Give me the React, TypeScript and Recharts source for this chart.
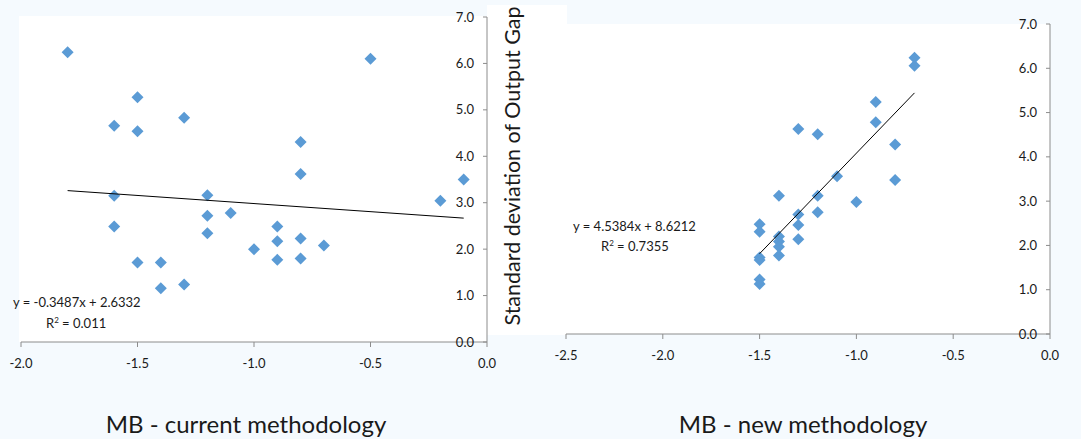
import React from "react";
import { ScatterChart, Scatter, XAxis, YAxis } from "recharts";

// MB output gap vs standard deviation, two methodologies
const CURRENT_X = [-1.8, -0.5, -1.5, -1.6, -1.5, -1.3, -0.8, -0.8, -0.1, -0.2, -1.6, -1.6, -1.2, -1.2, -1.2, -1.1, -0.9, -0.9, -0.9, -0.8, -0.8, -0.7, -1.0, -1.5, -1.4, -1.4, -1.3];
const CURRENT_Y = [6.24, 6.1, 5.27, 4.66, 4.54, 4.83, 4.31, 3.62, 3.5, 3.04, 3.15, 2.49, 3.16, 2.72, 2.34, 2.78, 2.49, 2.17, 1.77, 2.23, 1.8, 2.08, 2.0, 1.71, 1.71, 1.16, 1.24];

const NEW_X = [-0.7, -0.7, -0.9, -0.9, -1.3, -1.2, -0.8, -1.1, -0.8, -1.4, -1.2, -1.0, -1.2, -1.3, -1.3, -1.3, -1.5, -1.5, -1.4, -1.4, -1.4, -1.4, -1.5, -1.5, -1.5, -1.5];
const NEW_Y = [6.24, 6.06, 5.24, 4.78, 4.63, 4.51, 4.28, 3.56, 3.48, 3.12, 3.12, 2.98, 2.75, 2.7, 2.46, 2.14, 2.48, 2.31, 2.2, 2.09, 1.97, 1.77, 1.73, 1.67, 1.23, 1.13];

const CURRENT_FIT = { slope: -0.3487, intercept: 2.6332, r2: "0.011" };
const NEW_FIT = { slope: 4.5384, intercept: 8.6212, r2: "0.7355" };

const Y_TICKS = [0, 1, 2, 3, 4, 5, 6, 7];
const CURRENT_X_TICKS = [-2, -1.5, -1, -0.5, 0];
const NEW_X_TICKS = [-2.5, -2, -1.5, -1, -0.5, 0];

const FONT = "Lato, 'Open Sans', sans-serif";
const BLUE = "#5B9BD5";
const AXIS = "#8c8c8c";
const TEXT = "#1a1a1a";

const toPoints = (xs: number[], ys: number[]) => xs.map((x, i) => ({ x, y: ys[i] }));
const trend = (xs: number[], fit: { slope: number; intercept: number }) => {
  const lo = Math.min(...xs);
  const hi = Math.max(...xs);
  return [lo, hi].map((x) => ({ x, y: fit.slope * x + fit.intercept }));
};

function Diamond(props: any) {
  const { cx, cy } = props;
  if (cx == null || cy == null) return null;
  const r = 6;
  return <path d={`M${cx},${cy - r}L${cx + r},${cy}L${cx},${cy + r}L${cx - r},${cy}Z`} fill={BLUE} />;
}

const NoShape = () => null;

function Panel({ xs, ys, fit, xTicks, width, height, margin }: any) {
  const xDomain = [xTicks[0], xTicks[xTicks.length - 1]];
  return (
    <ScatterChart width={width} height={height} margin={margin}>
      <XAxis
        type="number"
        dataKey="x"
        domain={xDomain}
        ticks={xTicks}
        tickFormatter={(v) => v.toFixed(1)}
        tick={{ fill: TEXT, fontSize: 13, fontFamily: FONT }}
        axisLine={{ stroke: AXIS }}
        tickLine={{ stroke: AXIS }}
        tickSize={5}
        tickMargin={12}
        height={30}
        allowDataOverflow
      />
      <YAxis
        type="number"
        dataKey="y"
        orientation="right"
        mirror
        domain={[0, 7]}
        ticks={Y_TICKS}
        tickFormatter={(v) => v.toFixed(1)}
        tick={{ fill: TEXT, fontSize: 13, fontFamily: FONT }}
        axisLine={{ stroke: AXIS }}
        tickLine={{ stroke: AXIS }}
        tickSize={4}
        tickMargin={9}
        width={40}
        allowDataOverflow
      />
      <Scatter data={toPoints(xs, ys)} shape={<Diamond />} isAnimationActive={false} />
      <Scatter
        data={trend(xs, fit)}
        line={{ stroke: "#000", strokeWidth: 1 }}
        shape={NoShape}
        isAnimationActive={false}
      />
    </ScatterChart>
  );
}

const abs = (left: number, top: number, extra: any = {}) => ({
  position: "absolute" as const,
  left,
  top,
  ...extra,
});

export default function App() {
  return (
    <div
      style={{
        position: "absolute",
        left: 0,
        top: 0,
        width: 1081,
        height: 439,
        background: "#F5FAFE",
        fontFamily: FONT,
        color: TEXT,
        overflow: "hidden",
      }}
    >
      {/* white plot backgrounds */}
      <div style={abs(19, 16, { width: 468, height: 326, background: "#fff" })} />
      <div style={abs(487, 5, { width: 80, height: 330, background: "#fff" })} />
      <div style={abs(565, 24, { width: 485, height: 310, background: "#fff" })} />

      <div style={abs(0, 0)}>
        <Panel
          xs={CURRENT_X}
          ys={CURRENT_Y}
          fit={CURRENT_FIT}
          xTicks={CURRENT_X_TICKS}
          width={540}
          height={439}
          margin={{ top: 17, right: 53, bottom: 67, left: 21 }}
        />
      </div>
      <div style={abs(540, 0)}>
        <Panel
          xs={NEW_X}
          ys={NEW_Y}
          fit={NEW_FIT}
          xTicks={NEW_X_TICKS}
          width={541}
          height={439}
          margin={{ top: 24, right: 31, bottom: 75, left: 26 }}
        />
      </div>

      {/* trend equations */}
      <div style={abs(13, 294, { fontSize: 13, whiteSpace: "nowrap" })}>
        y = {CURRENT_FIT.slope}x + {CURRENT_FIT.intercept}
      </div>
      <div style={abs(46, 315, { fontSize: 13, whiteSpace: "nowrap" })}>
        R<sup style={{ fontSize: 8 }}>2</sup> = {CURRENT_FIT.r2}
      </div>
      <div style={abs(573, 218, { fontSize: 13, whiteSpace: "nowrap" })}>
        y = {NEW_FIT.slope}x + {NEW_FIT.intercept}
      </div>
      <div style={abs(601, 238, { fontSize: 13, whiteSpace: "nowrap" })}>
        R<sup style={{ fontSize: 8 }}>2</sup> = {NEW_FIT.r2}
      </div>

      {/* y axis title */}
      <div
        style={abs(512, 166, {
          fontSize: 21.5,
          whiteSpace: "nowrap",
          transform: "translate(-50%, -50%) rotate(-90deg)",
        })}
      >
        Standard deviation of Output Gap
      </div>

      {/* panel titles */}
      <div style={abs(246, 423, { fontSize: 24, whiteSpace: "nowrap", transform: "translate(-50%, -50%)" })}>
        MB - current methodology
      </div>
      <div style={abs(803, 423, { fontSize: 24, whiteSpace: "nowrap", transform: "translate(-50%, -50%)" })}>
        MB - new methodology
      </div>
    </div>
  );
}
